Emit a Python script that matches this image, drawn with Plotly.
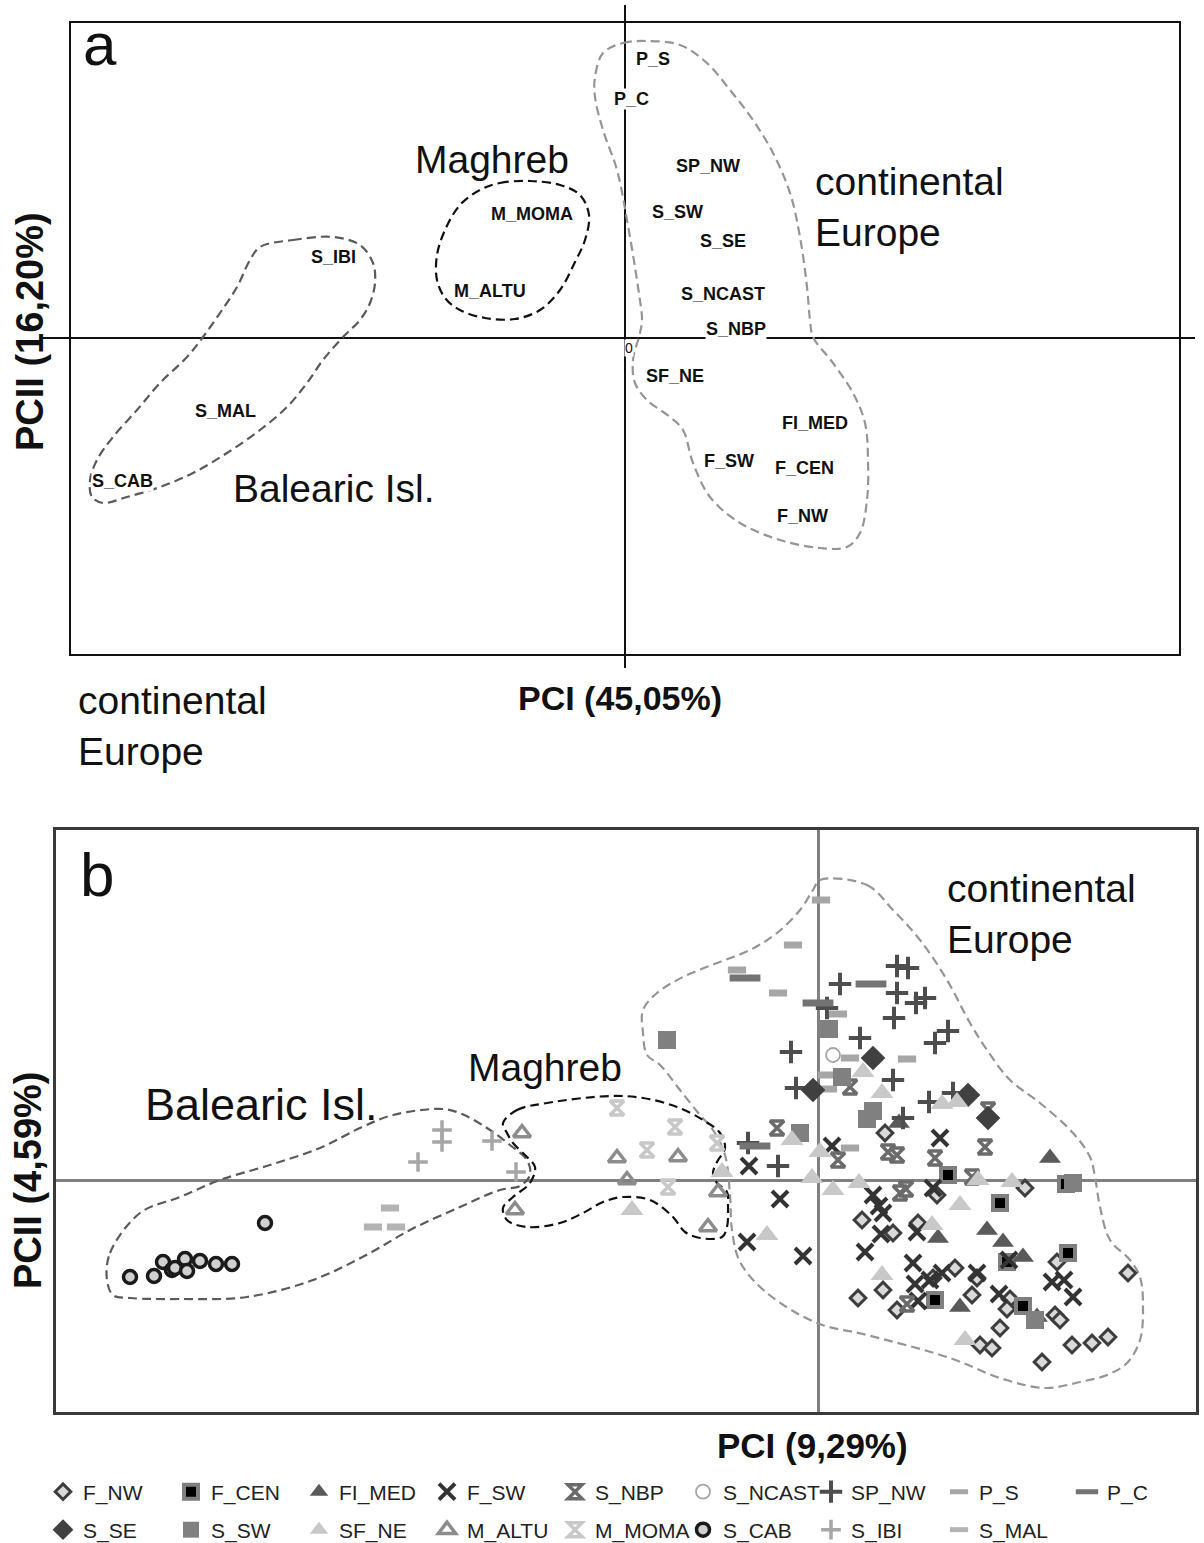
import plotly.graph_objects as go

FONT = "Arial, 'Liberation Sans', sans-serif"

# ---------------- Panel a: population scores (PCI 45,05 %, PCII 16,20 %)
pops_a = ["P_S", "P_C", "SP_NW", "S_SW", "S_SE", "S_NCAST", "S_NBP", "SF_NE", "FI_MED",
          "F_SW", "F_CEN", "F_NW", "M_MOMA", "M_ALTU", "S_IBI", "S_MAL", "S_CAB"]
pc1_a = [0.28, 0.06, 0.83, 0.52, 0.98, 0.98, 1.11, 0.50, 1.90,
         1.04, 1.79, 1.77, -0.93, -1.35, -2.92, -4.00, -5.03]
pc2_a = [2.79, 2.39, 1.72, 1.26, 0.97, 0.44, 0.09, -0.38, -0.85,
         -1.23, -1.30, -1.78, 1.24, 0.47, 0.81, -0.73, -1.43]

# group outlines, panel a
bal_a_x = [-3.65, -3.32, -2.92, -2.65, -2.52, -2.50, -2.55, -2.65, -2.82, -3.02, -3.18, -3.38, -3.65, -3.98, -4.32,
           -4.65, -4.98, -5.22, -5.33, -5.35, -5.28, -5.12, -4.88, -4.65, -4.38, -4.22, -4.05, -3.88, -3.75, -3.65]
bal_a_y = [0.91, 0.98, 1.01, 0.93, 0.75, 0.55, 0.35, 0.18, 0.01, -0.22, -0.45, -0.69, -0.92, -1.15, -1.35,
           -1.49, -1.59, -1.65, -1.59, -1.42, -1.22, -0.99, -0.72, -0.45, -0.19, 0.01, 0.25, 0.51, 0.78, 0.91]
mag_a_x = [-1.45, -1.25, -0.95, -0.65, -0.45, -0.36, -0.40, -0.50, -0.65, -0.85, -1.10, -1.40, -1.65, -1.80,
           -1.88, -1.88, -1.80, -1.65, -1.45]
mag_a_y = [1.48, 1.55, 1.57, 1.53, 1.43, 1.23, 0.98, 0.76, 0.48, 0.28, 0.19, 0.20, 0.28, 0.40,
           0.58, 0.83, 1.08, 1.33, 1.48]
eur_a_x = [-0.22, -0.02, 0.22, 0.55, 0.82, 1.05, 1.28, 1.48, 1.65, 1.75, 1.82, 1.85, 1.88, 2.08, 2.28, 2.40, 2.43,
           2.42, 2.35, 2.22, 1.95, 1.55, 1.15, 0.85, 0.68, 0.58, 0.45, 0.22, 0.10, 0.08, 0.15, 0.17, 0.13, 0.02,
           -0.08, -0.22, -0.30, -0.30, -0.22]
eur_a_y = [2.85, 2.95, 2.97, 2.93, 2.75, 2.48, 2.18, 1.85, 1.45, 1.01, 0.51, 0.18, 0.01, -0.25, -0.55, -0.85, -1.22,
           -1.62, -1.95, -2.09, -2.10, -2.02, -1.85, -1.59, -1.25, -0.92, -0.79, -0.62, -0.45, -0.22, 0.05, 0.18,
           0.51, 1.18, 1.68, 2.08, 2.41, 2.61, 2.85]

# ---------------- Panel b: individual scores (PCI 9,29 %, PCII 4,59 %)
F_NW_x = [0.67, 1.19, 2.07, 0.44, 0.75, 1.00, 1.37, 1.15, 0.65, 0.40, 0.79, 1.54, 1.59, 1.82, 1.92, 1.89, 1.62,
          1.74, 2.24, 2.39, 2.37, 2.42, 2.54, 2.74, 2.90, 3.10]
F_NW_y = [0.47, -0.15, -0.08, -0.40, -0.53, -0.43, -0.88, -0.98, -1.10, -1.18, -1.30, -1.15, -0.98, -1.48, -1.19,
          -1.29, -1.65, -1.68, -1.82, -0.82, -1.35, -1.40, -1.65, -1.63, -1.57, -0.93]
F_CEN_x = [1.17, 1.30, 1.82, 1.89, 2.05, 2.48, 2.50]
F_CEN_y = [-1.20, 0.05, -0.23, -0.82, -1.26, -0.04, -0.73]
FI_MED_x = [0.81, 1.20, 1.42, 1.69, 1.85, 2.05, 2.19, 2.32]
FI_MED_y = [0.57, -0.58, -1.27, -0.50, -0.62, -0.77, -1.37, 0.22]
F_SW_x = [-0.69, 0.14, -0.38, -0.71, -0.15, 0.55, 0.61, 0.65, 0.63, 0.99, 0.47, 0.95, 0.97, 1.12, 1.24, 1.00,
          1.15, 1.22, 1.59, 1.81, 1.91, 2.34, 2.46, 2.55]
F_SW_y = [0.14, 0.34, -0.19, -0.62, -0.76, -0.15, -0.26, -0.33, -0.54, -0.52, -0.72, -0.83, -1.04, -1.00, -0.93,
          -1.21, -0.08, 0.42, -0.93, -1.14, -0.80, -1.02, -1.00, -1.17]
S_NBP_x = [-0.41, 0.20, 0.32, 0.70, 0.79, 1.17, 1.67, 1.70, 0.82, 0.88, 1.54, 0.89]
S_NBP_y = [0.52, 0.20, 0.93, 0.28, 0.25, 0.22, 0.33, 0.70, -0.13, -0.09, 0.03, -1.24]
S_NCAST_x = [0.15]
S_NCAST_y = [1.25]
SP_NW_x = [0.79, 0.90, 0.22, 0.79, 0.98, 1.07, 0.09, 0.76, 1.30, 1.17, 0.42, -0.27, 0.75, -0.22, 1.11, 1.35,
           0.85, -0.70, -0.40]
SP_NW_y = [2.14, 2.12, 1.96, 1.87, 1.77, 1.82, 1.72, 1.62, 1.49, 1.37, 1.42, 1.28, 1.00, 0.92, 0.78, 0.87,
           0.62, 0.37, 0.14]
P_S_x = [0.03, -0.25, -0.81, -0.40, 0.20, 0.32, 0.89, 0.09, 0.10, 0.32]
P_S_y = [2.80, 2.35, 2.10, 1.87, 1.66, 1.22, 1.21, 1.05, 0.91, 0.32]
P_C_x = [-0.73, 0.53, 0.00, -0.63]
P_C_y = [2.02, 1.96, 1.77, 0.34]
S_SE_x = [-0.05, 0.55, 1.50, 1.70]
S_SE_y = [0.90, 1.22, 0.85, 0.62]
S_SW_x = [-1.51, 0.11, 0.24, 0.55, 0.49, -0.18, 2.55, 2.17]
S_SW_y = [1.40, 1.51, 1.03, 0.69, 0.61, 0.47, -0.03, -1.40]
SF_NE_x = [-1.86, -0.96, -0.51, -0.26, 0.02, -0.06, 0.15, 0.41, 0.45, 0.64, 1.24, 1.39, 0.64, 1.14, 1.60, 1.94,
           1.42, 1.47]
SF_NE_y = [-0.30, 0.08, -0.55, 0.40, 0.28, 0.02, -0.10, -0.03, 1.08, 0.87, 0.76, 0.78, -0.95, -0.45, 0.00, -0.02,
           -0.25, -1.60]
M_ALTU_x = [-2.96, -2.01, -1.91, -1.40, -1.00, -3.03, -1.10]
M_ALTU_y = [0.47, 0.22, 0.00, 0.23, -0.12, -0.30, -0.47]
M_MOMA_x = [-2.01, -1.43, -1.71, -1.01, -1.50]
M_MOMA_y = [0.72, 0.53, 0.30, 0.37, -0.07]
S_CAB_x = [-6.88, -6.64, -6.55, -6.46, -6.43, -6.33, -6.31, -6.18, -6.02, -5.86, -5.53]
S_CAB_y = [-0.97, -0.96, -0.82, -0.90, -0.88, -0.79, -0.91, -0.81, -0.84, -0.84, -0.43]
S_IBI_x = [-3.76, -3.76, -3.26, -4.00, -3.02]
S_IBI_y = [0.50, 0.38, 0.39, 0.18, 0.08]
S_MAL_x = [-4.28, -4.45, -4.22]
S_MAL_y = [-0.28, -0.47, -0.47]

# group outlines, panel b
bal_b_x = [-7.11, -7.08, -6.78, -6.38, -5.98, -5.48, -4.98, -4.58, -4.25, -3.75, -3.56, -3.31, -3.08, -2.91, -2.88,
           -2.98, -3.18, -3.58, -4.08, -4.48, -5.05, -5.71, -6.38, -6.88, -7.05, -7.11]
bal_b_y = [-1.00, -0.73, -0.33, -0.17, 0.00, 0.15, 0.32, 0.52, 0.65, 0.71, 0.66, 0.52, 0.35, 0.20, 0.05,
           -0.06, -0.10, -0.27, -0.50, -0.73, -1.00, -1.17, -1.19, -1.18, -1.15, -1.00]
mag_b_x = [-3.15, -3.01, -2.71, -2.08, -1.75, -1.41, -1.15, -0.98, -0.93, -1.01, -1.05, -1.01, -0.91, -0.90, -0.91,
           -0.96, -1.18, -1.33, -1.45, -1.68, -1.95, -2.15, -2.35, -2.58, -2.91, -3.11, -3.15, -3.05, -2.88, -2.83,
           -2.91, -3.05, -3.11, -3.15]
mag_b_y = [0.57, 0.70, 0.77, 0.84, 0.82, 0.73, 0.60, 0.47, 0.32, 0.18, 0.07, -0.03, -0.12, -0.27, -0.47,
           -0.57, -0.58, -0.52, -0.37, -0.20, -0.17, -0.22, -0.33, -0.43, -0.47, -0.40, -0.28, -0.17, -0.03, 0.13,
           0.23, 0.37, 0.47, 0.57]
eur_b_x = [0.02, 0.49, 0.75, 1.02, 1.29, 1.52, 1.69, 1.92, 2.22, 2.55, 2.72, 2.77, 2.82, 2.92, 3.12, 3.22, 3.25,
           3.22, 3.09, 2.89, 2.62, 2.27, 1.82, 1.32, 0.49, -0.01, -0.51, -0.78, -0.86, -0.88, -0.93, -1.05, -1.18,
           -1.38, -1.58, -1.71, -1.75, -1.75, -1.61, -1.35, -1.01, -0.68, -0.41, -0.18, -0.05, 0.02]
eur_b_y = [3.00, 2.95, 2.70, 2.40, 2.00, 1.57, 1.30, 1.00, 0.77, 0.47, 0.23, 0.03, -0.27, -0.60, -0.80, -0.97,
           -1.27, -1.60, -1.83, -1.95, -2.02, -2.08, -1.98, -1.78, -1.55, -1.43, -1.13, -0.82, -0.50, -0.15, 0.25,
           0.50, 0.65, 0.90, 1.15, 1.25, 1.47, 1.70, 1.87, 2.03, 2.17, 2.30, 2.47, 2.70, 2.90, 3.00]

W, H = 1204, 1543


def PX(px):
    return px / W


def PY(py):
    return 1 - py / H


fig = go.Figure()
DASH = "9px,5px"


def outline(x, y, color, xa, ya):
    fig.add_trace(go.Scatter(x=x, y=y, mode="lines", xaxis=xa, yaxis=ya,
                             line=dict(shape="spline", smoothing=1.0, dash=DASH, color=color, width=2.2),
                             showlegend=False, hoverinfo="skip"))


outline(bal_a_x, bal_a_y, "#5a5a5a", "x", "y")
outline(mag_a_x, mag_a_y, "#111111", "x", "y")
outline(eur_a_x, eur_a_y, "#959595", "x", "y")
outline(bal_b_x, bal_b_y, "#5a5a5a", "x2", "y2")
outline(eur_b_x, eur_b_y, "#959595", "x2", "y2")
outline(mag_b_x, mag_b_y, "#111111", "x2", "y2")

# panel a: invisible anchors (hover) for the population labels
fig.add_trace(go.Scatter(x=pc1_a, y=pc2_a, mode="markers", marker=dict(size=1, opacity=0),
                         text=pops_a, hoverinfo="text", showlegend=False, xaxis="x", yaxis="y"))

series_b = [
    ("F_NW", F_NW_x, F_NW_y, dict(symbol="diamond", size=12, color="#d9d9d9",
                                  line=dict(color="#3d3d3d", width=3)), "legend"),
    ("F_CEN", F_CEN_x, F_CEN_y, dict(symbol="square", size=14, color="#000000",
                                     line=dict(color="#7f7f7f", width=4)), "legend"),
    ("FI_MED", FI_MED_x, FI_MED_y, dict(symbol="triangle-up", size=19, color="#595959",
                                        line=dict(width=0)), "legend"),
    ("F_SW", F_SW_x, F_SW_y, dict(symbol="x-thin", size=16, color="#333333",
                                  line=dict(color="#333333", width=4)), "legend"),
    ("S_NBP", S_NBP_x, S_NBP_y, dict(symbol="hourglass-open", size=14, color="#6b6b6b",
                                     line=dict(color="#6b6b6b", width=3.5)), "legend"),
    ("S_NCAST", S_NCAST_x, S_NCAST_y, dict(symbol="circle-open", size=14, color="#a6a6a6",
                                           line=dict(color="#a6a6a6", width=1.8)), "legend"),
    ("SP_NW", SP_NW_x, SP_NW_y, dict(symbol="cross-thin", size=16, color="#4d4d4d",
                                     line=dict(color="#4d4d4d", width=4)), "legend"),
    ("P_S", P_S_x, P_S_y, dict(symbol="line-ew", size=13, color="#a6a6a6",
                               line=dict(color="#a6a6a6", width=7)), "legend"),
    ("P_C", P_C_x, P_C_y, dict(symbol="line-ew", size=22, color="#737373",
                               line=dict(color="#737373", width=7)), "legend"),
    ("S_SE", S_SE_x, S_SE_y, dict(symbol="diamond", size=19, color="#404040",
                                  line=dict(width=0)), "legend2"),
    ("S_SW", S_SW_x, S_SW_y, dict(symbol="square", size=18, color="#808080",
                                  line=dict(width=0)), "legend2"),
    ("SF_NE", SF_NE_x, SF_NE_y, dict(symbol="triangle-up", size=20, color="#c8c8c8",
                                     line=dict(width=0)), "legend2"),
    ("M_ALTU", M_ALTU_x, M_ALTU_y, dict(symbol="triangle-up-open", size=15, color="#8c8c8c",
                                        line=dict(color="#8c8c8c", width=3.5)), "legend2"),
    ("M_MOMA", M_MOMA_x, M_MOMA_y, dict(symbol="hourglass-open", size=14, color="#c8c8c8",
                                        line=dict(color="#c8c8c8", width=3.5)), "legend2"),
    ("S_CAB", S_CAB_x, S_CAB_y, dict(symbol="circle", size=13, color="#d0d0d0",
                                     line=dict(color="#1a1a1a", width=3.5)), "legend2"),
    ("S_IBI", S_IBI_x, S_IBI_y, dict(symbol="cross-thin", size=14, color="#a6a6a6",
                                     line=dict(color="#a6a6a6", width=3.5)), "legend2"),
    ("S_MAL", S_MAL_x, S_MAL_y, dict(symbol="line-ew", size=13, color="#b3b3b3",
                                     line=dict(color="#b3b3b3", width=7)), "legend2"),
]
for name, xs, ys, mk, lg in series_b:
    fig.add_trace(go.Scatter(x=xs, y=ys, mode="markers", name=name, marker=mk,
                             xaxis="x2", yaxis="y2", legend=lg, cliponaxis=False))

ann = []
for lab, xv, yv in zip(pops_a, pc1_a, pc2_a):
    ann.append(dict(x=xv, y=yv, xref="x", yref="y", text=lab, showarrow=False,
                    font=dict(family=FONT, size=18, color="#111111", weight="bold"),
                    bgcolor="white", borderpad=0))
ann.append(dict(x=0.04, y=-0.10, xref="x", yref="y", text="0", showarrow=False,
                font=dict(family=FONT, size=14, color="#111111"), bgcolor="white", borderpad=0))


def ptext(text, px, py, size, xanchor="center", bold=False, angle=0, align="center"):
    ann.append(dict(x=PX(px), y=PY(py), xref="paper", yref="paper", text=text,
                    showarrow=False, xanchor=xanchor, yanchor="middle", textangle=angle, align=align,
                    font=dict(family=FONT, size=size, color="#111111",
                              weight="bold" if bold else "normal")))


ptext("a", 100, 44, 60)
ptext("Maghreb", 492, 160, 39)
ptext("continental<br>Europe", 813, 207, 39, xanchor="left", align="left")
ptext("Balearic Isl.", 334, 489, 39)
ptext("PCII (16,20%)", 30, 332, 38, bold=True, angle=-90)
ptext("PCI (45,05%)", 620, 698, 34, bold=True)
ptext("continental<br>Europe", 76, 726, 39, xanchor="left", align="left")

ptext("b", 97, 874, 62)
ptext("continental<br>Europe", 945, 914, 39, xanchor="left", align="left")
ptext("Maghreb", 545, 1067, 39)
ptext("Balearic Isl.", 261, 1104, 45)
ptext("PCII (4,59%)", 28, 1180, 38, bold=True, angle=-90)
ptext("PCI (9,29%)", 812, 1445, 35, bold=True)

AX = dict(showgrid=False, showticklabels=False, ticks="", zeroline=True)

fig.update_layout(
    width=W, height=H, margin=dict(l=0, r=0, t=0, b=0, autoexpand=False),
    paper_bgcolor="white", plot_bgcolor="white",
    font=dict(family=FONT, color="#111111"),
    annotations=ann,
    shapes=[dict(type="rect", xref="x", yref="y", x0=-5.55, x1=5.55, y0=-3.17, y1=3.16,
                 line=dict(color="#111111", width=2), layer="below")],
    xaxis=dict(domain=[PX(40), PX(1195)], range=[-5.85, 5.70], anchor="y",
               zerolinecolor="#111111", zerolinewidth=1.6, **AX),
    yaxis=dict(domain=[PY(668), PY(5)], range=[-3.30, 3.33], anchor="x",
               zerolinecolor="#111111", zerolinewidth=1.6, **AX),
    xaxis2=dict(domain=[PX(56), PX(1196)], range=[-7.62, 3.78], anchor="y2",
                zerolinecolor="#808080", zerolinewidth=3,
                showline=True, mirror=True, linecolor="#3a3a3a", linewidth=3, **AX),
    yaxis2=dict(domain=[PY(1412), PY(830)], range=[-2.32, 3.50], anchor="x2",
                zerolinecolor="#808080", zerolinewidth=3,
                showline=True, mirror=True, linecolor="#3a3a3a", linewidth=3, **AX),
    legend=dict(orientation="h", x=PX(43), xanchor="left", y=PY(1492), yanchor="middle",
                entrywidth=83, entrywidthmode="pixels", itemwidth=30,
                font=dict(family=FONT, size=21, color="#222222"), bgcolor="rgba(0,0,0,0)"),
    legend2=dict(orientation="h", x=PX(43), xanchor="left", y=PY(1530), yanchor="middle",
                 entrywidth=83, entrywidthmode="pixels", itemwidth=30,
                 font=dict(family=FONT, size=21, color="#222222"), bgcolor="rgba(0,0,0,0)"),
)

fig.write_html("out.html", config={"displayModeBar": False},
               post_script="document.body.style.margin='0';")
